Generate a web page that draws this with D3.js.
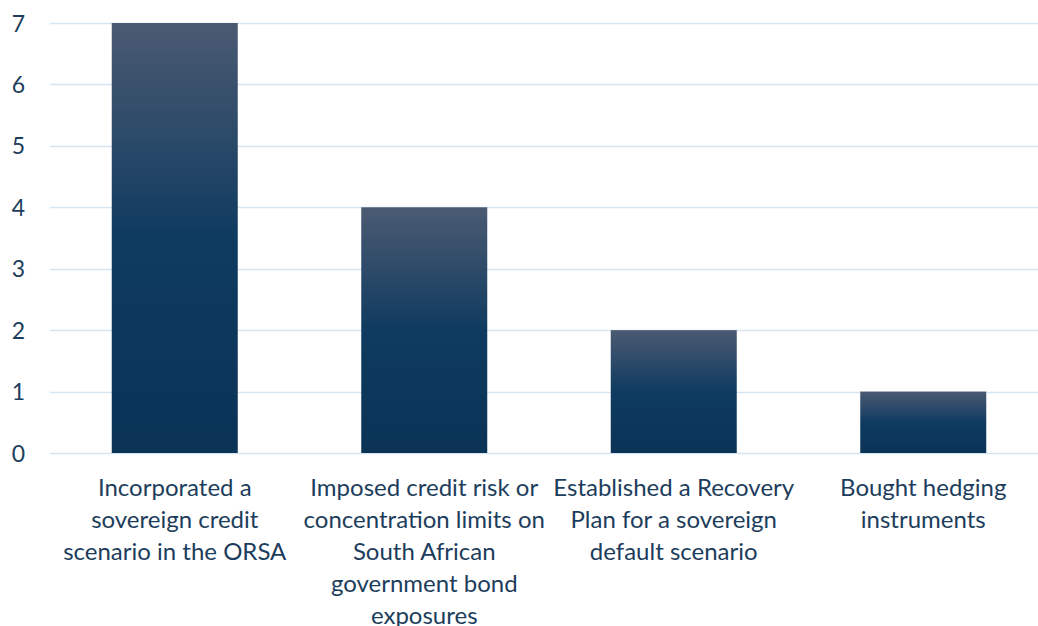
<!DOCTYPE html>
<html>
<head>
<meta charset="utf-8">
<script src="https://cdn.jsdelivr.net/npm/d3@7"></script>
<style>
  html, body { margin: 0; padding: 0; background: #fff; }
  svg { display: block; }
  text { font-family: Lato, "Open Sans", sans-serif; fill: #1d3d5c; }
</style>
</head>
<body>
<svg id="chart" width="1038" height="626"></svg>
<script>
// Categories (wrapped into display lines) and their counts
const categories = [
  ["Incorporated a", "sovereign credit", "scenario in the ORSA"],
  ["Imposed credit risk or", "concentration limits on", "South African", "government bond", "exposures"],
  ["Established a Recovery", "Plan for a sovereign", "default scenario"],
  ["Bought hedging", "instruments"]
];
const values = [7, 4, 2, 1];
const yTicks = [0, 1, 2, 3, 4, 5, 6, 7];

const svg = d3.select("#chart");
const margin = { left: 50, top: 23, bottom: 453 };

const x = d3.scaleBand()
  .domain(d3.range(categories.length))
  .range([margin.left, 1048])
  .paddingInner(0.495)
  .paddingOuter(0.2475);

const y = d3.scaleLinear().domain([0, 7]).range([margin.bottom, margin.top]);

// Bar gradient
const defs = svg.append("defs");
const grad = defs.append("linearGradient")
  .attr("id", "barFill").attr("x1", 0).attr("y1", 0).attr("x2", 0).attr("y2", 1);
grad.append("stop").attr("offset", "0%").attr("stop-color", "#4b5a72");
grad.append("stop").attr("offset", "50%").attr("stop-color", "#0f3b60");
grad.append("stop").attr("offset", "100%").attr("stop-color", "#0a3356");

// Gridlines
svg.append("g").selectAll("line").data(yTicks).join("line")
  .attr("x1", margin.left).attr("x2", 1038)
  .attr("y1", d => Math.round(y(d)) + 0.5).attr("y2", d => Math.round(y(d)) + 0.5)
  .attr("stroke", "#d5e5f3").attr("stroke-width", 1.5);

// Y axis labels
const yAxis = d3.axisLeft(y).tickValues(yTicks).tickFormat(d3.format("d")).tickSize(0).tickPadding(0);
const yg = svg.append("g").attr("transform", "translate(25,0)").call(yAxis);
yg.select(".domain").remove();
yg.selectAll("text")
  .attr("font-size", 23).attr("font-family", "Lato, 'Open Sans', sans-serif")
  .attr("fill", "#1d3d5c").attr("dy", "0.35em");

// Bars
svg.append("g").selectAll("rect").data(values).join("rect")
  .attr("x", (d, i) => x(i))
  .attr("width", x.bandwidth())
  .attr("y", d => y(d))
  .attr("height", d => y(0) - y(d))
  .attr("fill", "url(#barFill)");

// Category labels
const lab = svg.append("g").selectAll("text").data(categories).join("text")
  .attr("text-anchor", "middle")
  .attr("font-size", 24)
  .attr("transform", (d, i) => `translate(${x(i) + x.bandwidth() / 2},${y(0) + 43})`);
lab.selectAll("tspan").data(d => d).join("tspan")
  .attr("x", 0).attr("dy", (d, j) => j === 0 ? 0 : 32)
  .text(d => d);
</script>
</body>
</html>
